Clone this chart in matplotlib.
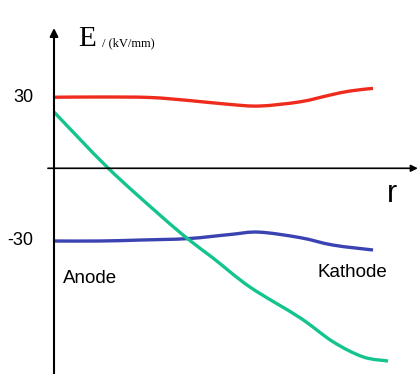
import matplotlib
matplotlib.use("Agg")
import matplotlib.pyplot as plt
from matplotlib.path import Path
from matplotlib.patches import PathPatch

# field strength E (kV/mm) along normalised radius r (0 = anode, 1 = kathode)
r_red = [0.0, 0.144, 0.30, 0.425, 0.55, 0.644, 0.769, 0.8625, 0.925, 0.997]
e_red = [29.9, 30.0, 29.8, 28.5, 26.9, 26.25, 28.0, 30.8, 32.5, 33.6]

r_blue = [0.0, 0.144, 0.269, 0.419, 0.55, 0.64, 0.769, 0.872, 0.997]
e_blue = [-30.0, -30.0, -29.6, -29.0, -27.3, -26.3, -28.6, -31.7, -33.75]

r_green = [0.0, 0.169, 0.331, 0.419, 0.497, 0.6125, 0.769, 0.872, 0.966, 1.044]
e_green = [23.75, 0.4, -19.2, -29.2, -37.1, -49.2, -62.0, -72.0, -78.3, -80.0]

ytick_vals = [30, -30]
ytick_labels = ["30", "-30"]

W, H = 419, 374
fig = plt.figure(figsize=(W / 100, H / 100), dpi=100)
ax = fig.add_axes([0, 0, 1, 1])
ax.set_xlim(-0.16875, 1.140625)
ax.set_ylim(-85.42, 70.42)
ax.axis("off")


def fx(px):
    return px / W


def fy(py):
    return 1 - py / H


def smooth_curve(xs, ys, color):
    # Catmull-Rom through the points, drawn as cubic Bezier segments
    pts = list(zip(xs, ys))
    verts = [pts[0]]
    codes = [Path.MOVETO]
    n = len(pts)
    for i in range(n - 1):
        p0 = pts[i - 1] if i > 0 else pts[i]
        p1 = pts[i]
        p2 = pts[i + 1]
        p3 = pts[i + 2] if i + 2 < n else pts[i + 1]
        c1 = (p1[0] + (p2[0] - p0[0]) / 6, p1[1] + (p2[1] - p0[1]) / 6)
        c2 = (p2[0] - (p3[0] - p1[0]) / 6, p2[1] - (p3[1] - p1[1]) / 6)
        verts += [c1, c2, p2]
        codes += [Path.CURVE4] * 3
    ax.add_patch(PathPatch(Path(verts, codes), fill=False, edgecolor=color,
                           lw=2.4, capstyle="butt"))


# axes with arrows
ax.annotate("", xy=(0, 58.75), xytext=(0, -86),
            arrowprops=dict(arrowstyle="-|>", color="black", lw=1.5,
                            mutation_scale=12, shrinkA=0, shrinkB=0))
ax.annotate("", xy=(1.137, 0.3), xytext=(-0.019, 0.3),
            arrowprops=dict(arrowstyle="-|>", color="black", lw=1.2,
                            mutation_scale=10, shrinkA=0, shrinkB=0))

smooth_curve(r_red, e_red, "#EE2B1C")
smooth_curve(r_blue, e_blue, "#3B42B2")
smooth_curve(r_green, e_green, "#14C48E")

for v, lab in zip(ytick_vals, ytick_labels):
    ax.text(-0.064, v, lab, ha="right", va="center", fontsize=13,
            family="Liberation Sans")

fig.text(fx(78), fy(46.5), "E", fontsize=21, family="Liberation Serif",
         ha="left", va="baseline")
fig.text(fx(102), fy(46.5), "/ (kV/mm)", fontsize=9, family="Liberation Serif",
         ha="left", va="baseline")
fig.text(fx(392), fy(202), "r", fontsize=22, family="Liberation Sans",
         ha="center", va="baseline")
fig.text(fx(63), fy(283), "Anode", fontsize=13.5, family="Liberation Sans",
         ha="left", va="baseline")
fig.text(fx(317), fy(277), "Kathode", fontsize=13.5, family="Liberation Sans",
         ha="left", va="baseline")

fig.savefig("out.png", dpi=100)
